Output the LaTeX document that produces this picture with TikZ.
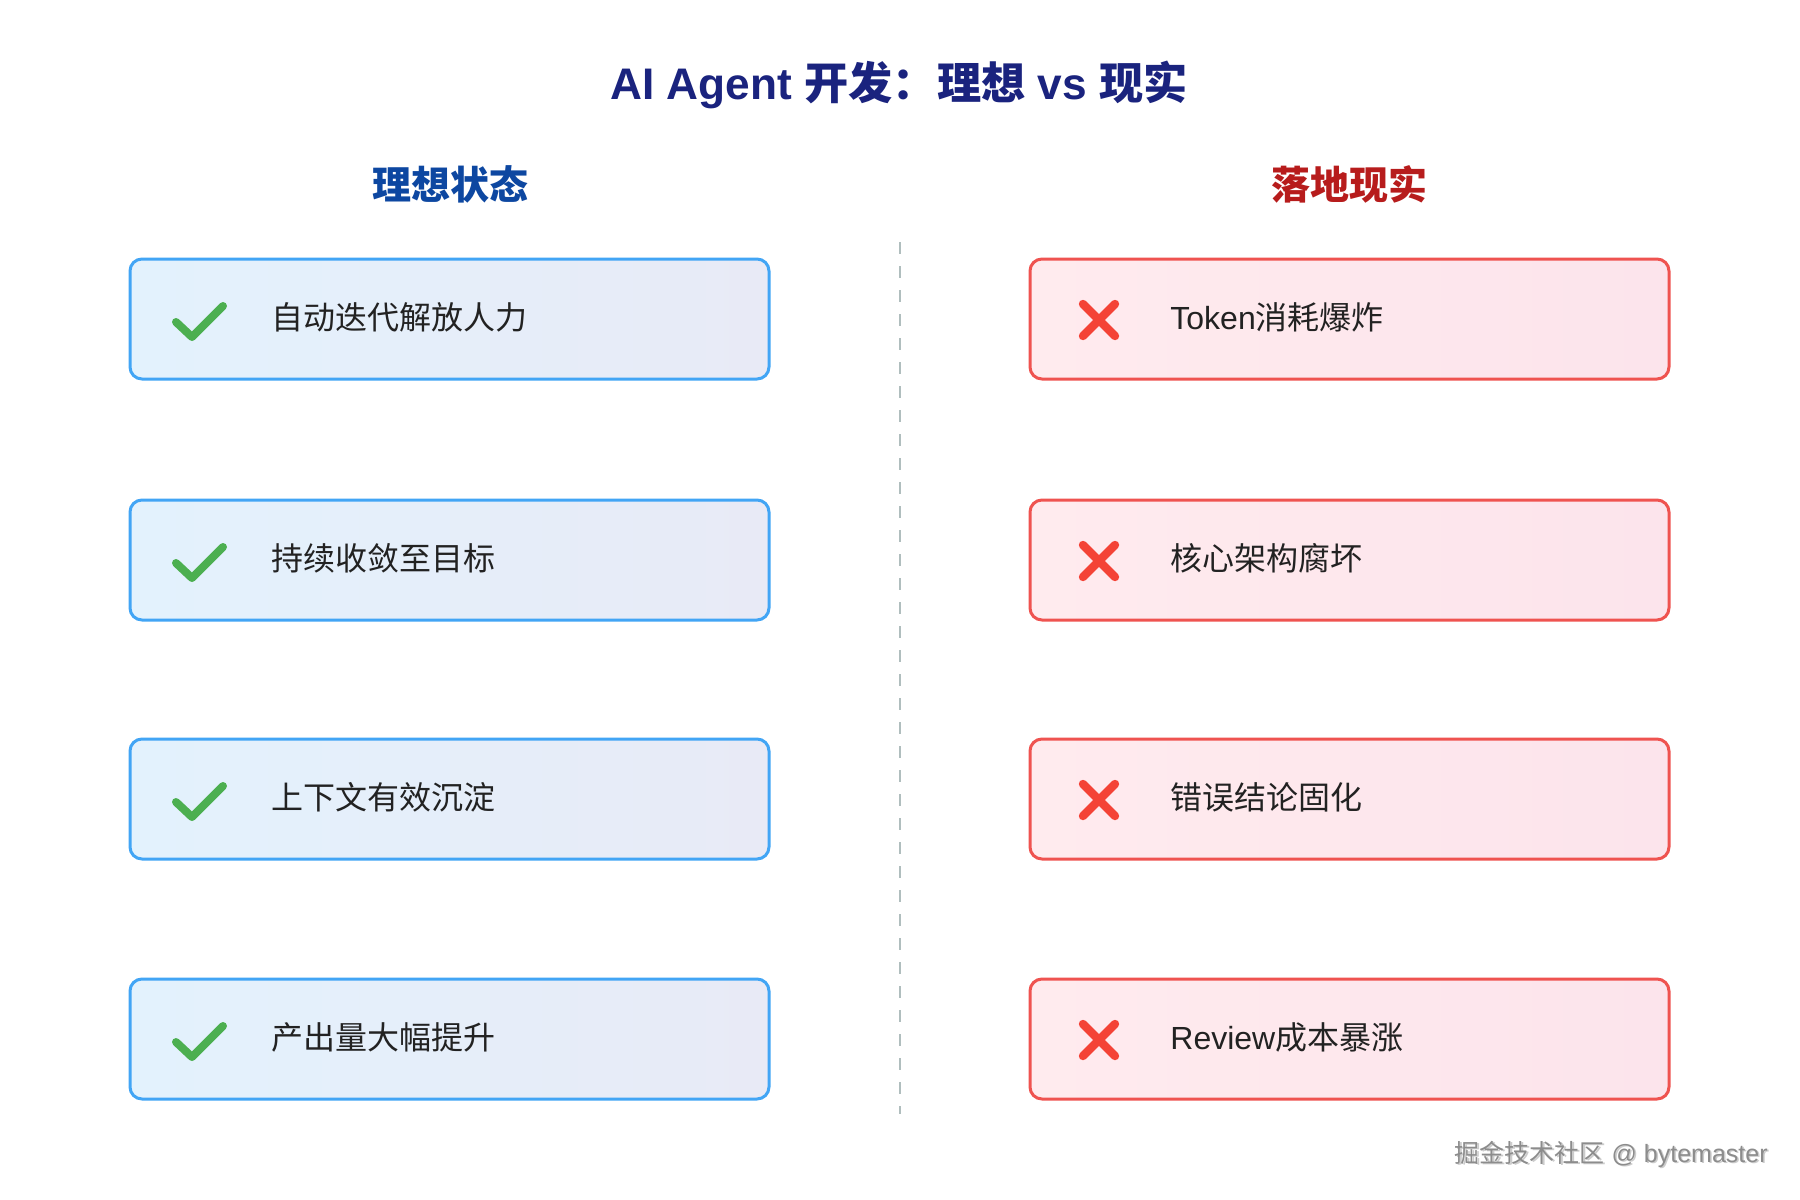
\documentclass[tikz,border=0pt]{standalone}
\usepackage{fontspec}
\setmainfont{Liberation Sans}
\newfontfamily\cjk{Noto Sans CJK SC}
\newcommand\zh[1]{{\cjk #1}}
\definecolor{titlec}{HTML}{1A237E}
\definecolor{lhead}{HTML}{0D47A1}
\definecolor{rhead}{HTML}{B71C1C}
\definecolor{lborder}{HTML}{42A5F5}
\definecolor{lfillA}{HTML}{E3F2FD}
\definecolor{lfillB}{HTML}{E8EAF6}
\definecolor{rborder}{HTML}{EF5350}
\definecolor{rfillA}{HTML}{FFEBEE}
\definecolor{rfillB}{HTML}{FCE4EC}
\definecolor{okc}{HTML}{4CAF50}
\definecolor{noc}{HTML}{F44336}
\definecolor{txt}{HTML}{222222}
\definecolor{divc}{HTML}{B0BEBE}
\tikzset{
  goodbox/.style={draw=lborder, line width=1.5pt, rounded corners=6pt, left color=lfillA, right color=lfillB, minimum width=319.5pt, minimum height=60pt, inner sep=0pt},
  badbox/.style={draw=rborder, line width=1.5pt, rounded corners=6pt, left color=rfillA, right color=rfillB, minimum width=319.5pt, minimum height=60pt, inner sep=0pt},
  itemtext/.style={anchor=west, text=txt, font=\fontsize{16}{19}\selectfont, inner sep=0pt},
  headtext/.style={font=\fontsize{19.5}{23}\selectfont\bfseries, inner sep=0pt},
  okmark/.style={draw=okc, line width=4pt, line cap=round, line join=round},
  nomark/.style={draw=noc, line width=4.2pt, line cap=round}
}
\begin{document}
\begin{tikzpicture}[x=0.5pt,y=-0.5pt]
\useasboundingbox (0,0) rectangle (1800,1200);
\fill[white] (0,0) rectangle (1800,1200);
% title
\node[font=\fontsize{22.1}{26}\selectfont\bfseries, text=titlec, inner sep=0pt] (title) at (899,85) {AI Agent \zh{开发：理想} vs \zh{现实}};
% headers
\node[headtext, text=lhead] (lh) at (450,184) {\zh{理想状态}};
\node[headtext, text=rhead] (rh) at (1349,184) {\zh{落地现实}};
% divider
\coordinate (dtop) at (900,242);
\coordinate (dbot) at (900,1114);
\draw[divc, line width=1.3pt, dash pattern=on 6pt off 6pt] (dtop) -- (dbot);
% left boxes
\foreach \i/\y/\t in {1/319/自动迭代解放人力, 2/560/持续收敛至目标, 3/799/上下文有效沉淀, 4/1039/产出量大幅提升}{
  \node[goodbox] (g\i) at (449.5,\y) {};
  \draw[okmark] (176,\y+3) -- (192,\y+18) -- (223,\y-13);
  \node[itemtext] (gt\i) at (271,\y-2) {\zh{\t}};
}
% right boxes
\foreach \i/\y in {1/319, 2/560, 3/799, 4/1039}{
  \node[badbox] (b\i) at (1349.5,\y) {};
  \draw[nomark] (1083,\y-15) -- (1115,\y+17);
  \draw[nomark] (1115,\y-15) -- (1083,\y+17);
}
\node[itemtext] (bt1) at (1170,317) {Token\zh{消耗爆炸}};
\node[itemtext] (bt2) at (1170,558) {\zh{核心架构腐坏}};
\node[itemtext] (bt3) at (1170,797) {\zh{错误结论固化}};
\node[itemtext] (bt4) at (1170,1037) {Review\zh{成本暴涨}};
% watermark
\node[anchor=east, text=gray!40, font=\fontsize{12.5}{15}\selectfont, inner sep=0pt] at (1769.5,1155.5) {\zh{掘金技术社区} @ bytemaster};
\node[anchor=east, text=gray!90, font=\fontsize{12.5}{15}\selectfont, inner sep=0pt] (wm) at (1768,1154) {\zh{掘金技术社区} @ bytemaster};
\end{tikzpicture}
\end{document}
